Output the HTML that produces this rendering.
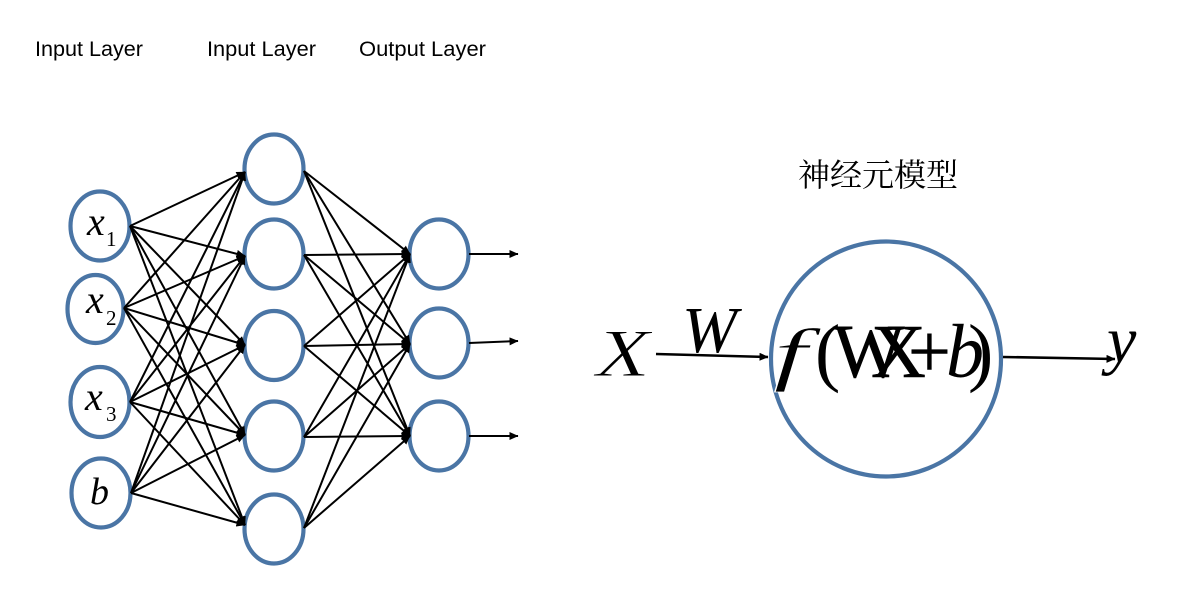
<!DOCTYPE html>
<html><head><meta charset="utf-8"><style>
html,body{margin:0;padding:0;background:#fff}
svg{display:block}
.l{font-family:"Liberation Sans",sans-serif;font-size:21px;fill:#000}
.m{font-family:"Liberation Serif",serif;font-style:italic;fill:#000}
.r{font-family:"Liberation Serif",serif;fill:#000}
</style></head><body>
<svg width="1183" height="601" viewBox="0 0 1183 601" xmlns="http://www.w3.org/2000/svg">
<defs><marker id="a" markerWidth="9" markerHeight="8" refX="8.5" refY="4" orient="auto" markerUnits="userSpaceOnUse"><path d="M0 0L9 4L0 8Z" fill="#000"/></marker></defs>
<text class="l" x="35" y="56" textLength="108" lengthAdjust="spacingAndGlyphs">Input Layer</text>
<text class="l" x="207" y="56" textLength="109" lengthAdjust="spacingAndGlyphs">Input Layer</text>
<text class="l" x="359" y="56" textLength="127" lengthAdjust="spacingAndGlyphs">Output Layer</text>
<g fill="none" stroke="#4a75a5" stroke-width="4.2">
<ellipse cx="100" cy="226" rx="29.5" ry="34.5"/><ellipse cx="95.5" cy="309" rx="28" ry="34"/><ellipse cx="100" cy="402" rx="29.5" ry="35"/><ellipse cx="101" cy="493" rx="29.5" ry="34.5"/>
<ellipse cx="274" cy="169" rx="29.5" ry="34.5"/><ellipse cx="274" cy="254" rx="29.5" ry="34.5"/><ellipse cx="274" cy="345.5" rx="29.5" ry="34.5"/><ellipse cx="274" cy="436" rx="29.5" ry="34.5"/><ellipse cx="274" cy="529" rx="29.5" ry="34.5"/>
<ellipse cx="439" cy="254" rx="29.5" ry="34.5"/><ellipse cx="439" cy="343" rx="29.5" ry="34.5"/><ellipse cx="439" cy="436" rx="29.5" ry="34.5"/>
<ellipse cx="886" cy="359" rx="115" ry="117.5"/>
</g>
<g stroke="#000" stroke-width="2" fill="none" marker-end="url(#a)">
<path d="M130 226L245 172"/><path d="M130 226L245 256"/><path d="M130 226L245 345"/><path d="M130 226L245 435"/><path d="M130 226L245 525"/>
<path d="M124 308L245 172"/><path d="M124 308L245 256"/><path d="M124 308L245 345"/><path d="M124 308L245 435"/><path d="M124 308L245 525"/>
<path d="M130 402L245 172"/><path d="M130 402L245 256"/><path d="M130 402L245 345"/><path d="M130 402L245 435"/><path d="M130 402L245 525"/>
<path d="M131 493L245 172"/><path d="M131 493L245 256"/><path d="M131 493L245 345"/><path d="M131 493L245 435"/><path d="M131 493L245 525"/>
<path d="M304 171L410 254"/><path d="M304 171L410 344"/><path d="M304 171L410 436"/>
<path d="M304 255L410 254"/><path d="M304 255L410 344"/><path d="M304 255L410 436"/>
<path d="M304 346L410 254"/><path d="M304 346L410 344"/><path d="M304 346L410 436"/>
<path d="M304 437L410 254"/><path d="M304 437L410 344"/><path d="M304 437L410 436"/>
<path d="M304 528L410 254"/><path d="M304 528L410 344"/><path d="M304 528L410 436"/>
<path d="M469 254L518 254"/><path d="M469 343L518 341"/><path d="M469 436L518 436"/>
<path d="M656 354L768 357" stroke-width="2.6"/><path d="M1003 357L1115 359" stroke-width="2.6"/>
</g>
<text class="m" x="87" y="235" font-size="40">x</text><text class="r" x="106" y="246" font-size="21">1</text>
<text class="m" x="86" y="313" font-size="40">x</text><text class="r" x="106" y="325" font-size="21">2</text>
<text class="m" x="85" y="410" font-size="40">x</text><text class="r" x="106" y="421" font-size="21">3</text>
<text class="m" x="90" y="504" font-size="38">b</text>
<text class="m" font-size="68" stroke="#fff" stroke-width="0.9" transform="translate(596,376) scale(1.3,1)">X</text>
<text class="m" x="682" y="352" font-size="66">W</text>
<text class="m" x="1107" y="362" font-size="66">y</text>
<text class="m" font-size="76" stroke="#fff" stroke-width="0.9" transform="translate(773.5,377) scale(1.6,0.92)">f</text>
<text class="r" x="815" y="377" font-size="76">(</text>
<text class="r" x="833" y="377" font-size="76" stroke="#000" stroke-width="0.6">W</text>
<text class="r" x="871" y="377" font-size="76" stroke="#000" stroke-width="0.6">X</text>
<text class="r" x="908" y="377" font-size="76" stroke="#000" stroke-width="0.6">+</text>
<text class="m" x="946" y="377" font-size="76">b</text>
<text class="r" x="968" y="377" font-size="76">)</text>
<text x="798" y="186" font-family="'Liberation Serif','Noto Serif CJK SC',serif" font-size="32" fill="#000">神经元模型</text>
</svg>
</body></html>
